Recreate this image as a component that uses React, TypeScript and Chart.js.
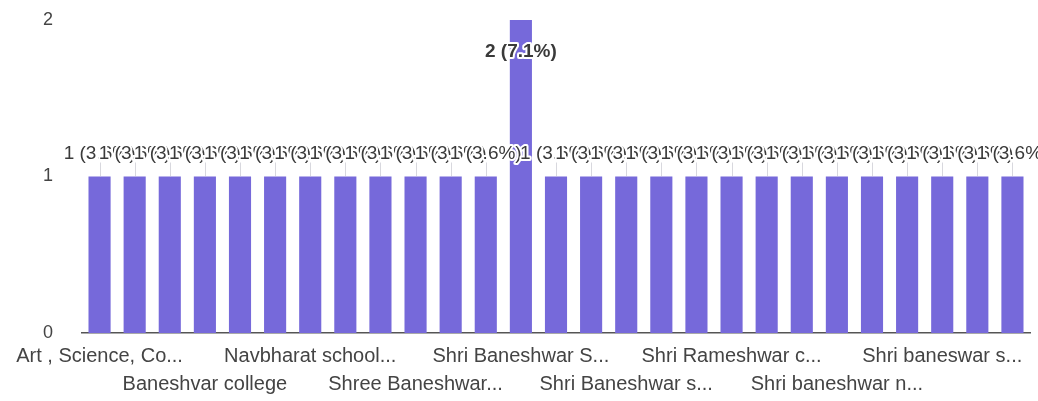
import React, { useEffect, useRef } from "react";
import { Chart, registerables } from "chart.js";

Chart.register(...registerables);

// Category names as they appear (truncated) under the axis; unlabeled bars use guessed names.
const categories: string[] = [
  "Art , Science, Co...",
  "Baneshvar Adarsh school",
  "Baneshvar Bal Niketan",
  "Baneshvar college",
  "Govt. college Baneshwar",
  "Navbharat Sr. Sec. school",
  "Navbharat school...",
  "Navbharat vidyalaya",
  "Shree Baneshwar Academy",
  "Shree Baneshwar...",
  "Shree Baneshwar vidyalaya",
  "Shri Baneshwar College",
  "Shri Baneshwar S...",
  "Shri Baneshwar Sr. Sec.",
  "Shri Baneshwar public",
  "Shri Baneshwar s...",
  "Shri Baneshwar vidyapeeth",
  "Shri Rameshwar academy",
  "Shri Rameshwar c...",
  "Shri Rameshwar school",
  "Shri baneshwar mahavidyalaya",
  "Shri baneshwar n...",
  "Shri baneshwar pg college",
  "Shri baneshwar public school",
  "Shri baneswar s...",
  "Shri baneswar sr. sec.",
  "Shri baneswar vidyapeeth",
];

const counts: number[] = [
  1, 1, 1, 1, 1, 1, 1, 1, 1, 1, 1, 1, 2, 1, 1, 1, 1, 1, 1, 1, 1, 1, 1, 1, 1, 1, 1,
];

const yTicks: number[] = [0, 1, 2];

const total = counts.reduce((a, b) => a + b, 0);

const FONT = "'Liberation Sans', Arial, sans-serif";

const labelPlugin = {
  id: "barLabels",
  afterDatasetsDraw(chart: any) {
    const ctx = chart.ctx;
    const meta = chart.getDatasetMeta(0);
    ctx.save();
    ctx.textAlign = "center";
    ctx.textBaseline = "middle";
    ctx.lineJoin = "round";
    meta.data.forEach((bar: any, i: number) => {
      const v = counts[i];
      const pct = ((v / total) * 100).toFixed(1);
      const text = `${v} (${pct}%)`;
      const inside = bar.y < chart.chartArea.top + 40;
      const y = inside ? bar.y + 32 : bar.y - 23;
      if (!inside) {
        ctx.strokeStyle = "rgba(190,190,200,0.6)";
        ctx.lineWidth = 1;
        ctx.beginPath();
        ctx.moveTo(Math.round(bar.x) + 0.5, y + 9);
        ctx.lineTo(Math.round(bar.x) + 0.5, bar.y);
        ctx.stroke();
      }
      ctx.font = inside ? `bold 19px ${FONT}` : `19px ${FONT}`;
      ctx.strokeStyle = "#ffffff";
      ctx.lineWidth = 4;
      ctx.strokeText(text, bar.x, y);
      ctx.fillStyle = "#3a3a3a";
      ctx.fillText(text, bar.x, y);
    });
    ctx.restore();
  },
};

export default function App() {
  const ref = useRef<HTMLCanvasElement | null>(null);

  useEffect(() => {
    document.body.style.margin = "0";
    const canvas = ref.current;
    if (!canvas) return;
    const chart = new Chart(canvas, {
      type: "bar",
      data: {
        labels: categories,
        datasets: [
          {
            data: counts,
            backgroundColor: "#7669da",
            borderWidth: 0,
            categoryPercentage: 1,
            barPercentage: 0.63,
          },
        ],
      },
      options: {
        responsive: false,
        animation: false,
        maintainAspectRatio: false,
        layout: { padding: { top: 20, right: 8, left: 0, bottom: 0 } },
        plugins: {
          legend: { display: false },
          tooltip: { enabled: false },
        },
        scales: {
          x: {
            grid: { display: false, drawTicks: false },
            border: { display: true, color: "#555555", width: 1.5 },
            ticks: {
              autoSkip: false,
              maxRotation: 0,
              minRotation: 0,
              padding: 9,
              color: "#444444",
              font: { size: 20, family: FONT, lineHeight: 1.4 },
              callback: (_v: any, i: number) => {
                if (i % 3 !== 0) return "";
                const t = categories[i];
                return (i / 3) % 2 === 0 ? t : ["", t];
              },
            },
            afterFit: (scale: any) => {
              scale.height = 68;
            },
          },
          y: {
            min: 0,
            max: 2,
            afterBuildTicks: (scale: any) => {
              scale.ticks = yTicks.map((v) => ({ value: v }));
            },
            grid: { display: false, drawTicks: false },
            border: { display: false },
            ticks: {
              padding: 29,
              color: "#444444",
              font: { size: 18, family: FONT },
            },
            afterFit: (scale: any) => {
              scale.width = 82;
              scale.paddingTop = 10;
              scale.paddingBottom = 10;
            },
          },
        },
      },
      plugins: [labelPlugin],
    });
    return () => chart.destroy();
  }, []);

  return (
    <div style={{ width: 1038, height: 401 }}>
      <canvas ref={ref} width={1038} height={401} />
    </div>
  );
}
